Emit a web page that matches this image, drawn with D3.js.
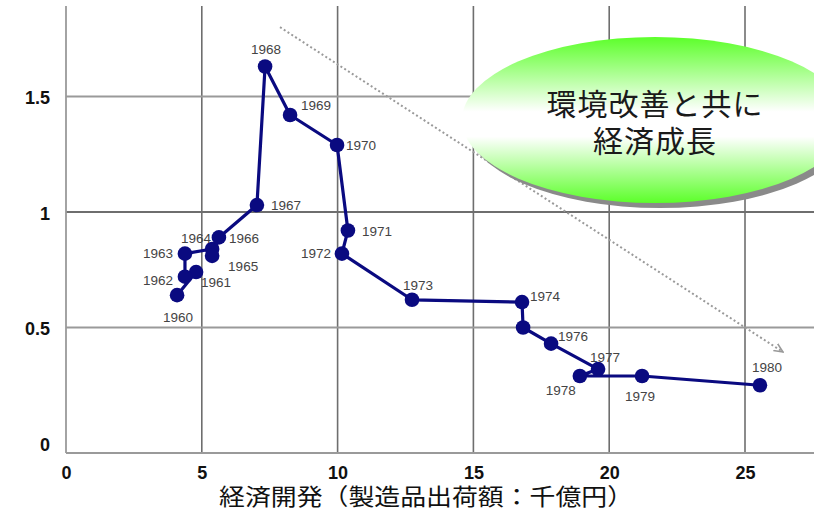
<!DOCTYPE html>
<html>
<head>
<meta charset="utf-8">
<script src="https://cdn.jsdelivr.net/npm/d3@7"></script>
<style>
  body { margin: 0; background: #fff; }
  svg { display: block; }
</style>
</head>
<body>
<svg id="svg" width="814" height="512"></svg>
<script>
// DATA //

// Year of each point
const years = [1960, 1961, 1962, 1963, 1964, 1965, 1966, 1967, 1968, 1969, 1970,
  1971, 1972, 1973, 1974, 1975, 1976, 1977, 1978, 1979, 1980];

// Economic development (shipments, 1000 oku yen)
const xValues = [4.09, 4.79, 4.38, 4.38, 5.38, 5.38, 5.63, 7.03, 7.33, 8.25, 9.98,
  10.38, 10.16, 12.74, 16.79, 16.83, 17.86, 19.59, 18.92, 21.21, 25.55];

// Pollution index
const yValues = [0.64, 0.74, 0.72, 0.82, 0.84, 0.81, 0.89, 1.03, 1.63, 1.42, 1.29,
  0.92, 0.82, 0.62, 0.61, 0.50, 0.43, 0.32, 0.29, 0.29, 0.25];

// Years without a label
const hiddenLabels = [1975];

const xTicks = [0, 5, 10, 15, 20, 25];
const yTicks = [0, 0.5, 1, 1.5];

// Dotted trend arrow (start, end) in data units
const trendX = [7.88, 26.4];
const trendY = [1.80, 0.394];

const xTitle = "経済開発（製造品出荷額：千億円）";
const calloutLines = ["環境改善と共に", "経済成長"];

// LAYOUT //

// Label offsets relative to the point [dx, dy, anchor]
const labelOffset = {
  1960: [1, 27, "middle"], 1961: [5, 15, "start"], 1962: [-12, 8, "end"],
  1963: [-12, 4, "end"], 1964: [-1, -6, "end"], 1965: [16, 15, "start"],
  1966: [10, 6, "start"], 1967: [14, 5, "start"], 1968: [1, -12, "middle"],
  1969: [11, -5, "start"], 1970: [9, 5, "start"], 1971: [14, 6, "start"],
  1972: [-11, 4, "end"], 1973: [6, -10, "middle"], 1974: [8, -1, "start"],
  1976: [7, -3, "start"], 1977: [7, -7, "middle"], 1978: [-19, 19, "middle"],
  1979: [-2, 25, "middle"], 1980: [7, -13, "middle"]
};

const svg = d3.select("#svg");

const plotTop = 6, plotBottom = 453, plotLeft = 66, plotRight = 814;

const x = d3.scaleLinear().domain([0, 25]).range([plotLeft, 745]);
const y = d3.scaleLinear().domain([0, 1.5]).range([443, 96.5]);

const defs = svg.append("defs");

// Green callout gradient
const grad = defs.append("linearGradient")
  .attr("id", "green").attr("x1", 0).attr("y1", 0).attr("x2", 0).attr("y2", 1);
grad.append("stop").attr("offset", "0%").attr("stop-color", "#5cff2a");
grad.append("stop").attr("offset", "45%").attr("stop-color", "#ffffff");
grad.append("stop").attr("offset", "60%").attr("stop-color", "#ffffff");
grad.append("stop").attr("offset", "100%").attr("stop-color", "#5cff2a");

defs.append("marker")
  .attr("id", "arrow")
  .attr("viewBox", "0 0 10 10")
  .attr("refX", 9).attr("refY", 5)
  .attr("markerWidth", 5).attr("markerHeight", 5)
  .attr("orient", "auto")
  .append("path")
  .attr("d", "M0,1 L9,5 L0,9")
  .attr("fill", "none")
  .attr("stroke", "#999")
  .attr("stroke-width", 1.5);

// Grid
const grid = svg.append("g");

grid.selectAll(".vgrid")
  .data(xTicks.filter(d => d > 0))
  .enter().append("line")
  .attr("x1", d => x(d)).attr("x2", d => x(d))
  .attr("y1", plotTop).attr("y2", plotBottom)
  .attr("stroke", "#6e6e6e").attr("stroke-width", 1.6);

grid.selectAll(".hgrid")
  .data(yTicks.filter(d => d > 0))
  .enter().append("line")
  .attr("x1", plotLeft).attr("x2", plotRight)
  .attr("y1", d => y(d)).attr("y2", d => y(d))
  .attr("stroke", d => d === 1 ? "#6e6e6e" : "#9a9a9a")
  .attr("stroke-width", 1.8);

// Axis lines
grid.append("line")
  .attr("x1", plotLeft).attr("x2", plotLeft)
  .attr("y1", plotTop).attr("y2", plotBottom)
  .attr("stroke", "#9a9a9a").attr("stroke-width", 1.8);
grid.append("line")
  .attr("x1", plotLeft).attr("x2", plotRight)
  .attr("y1", plotBottom).attr("y2", plotBottom)
  .attr("stroke", "#9a9a9a").attr("stroke-width", 1.8);

// Tick labels
const yAxis = svg.append("g")
  .attr("transform", "translate(50,1)")
  .call(d3.axisLeft(y).tickValues(yTicks).tickSize(0).tickFormat(d3.format("")));
yAxis.select(".domain").remove();
yAxis.selectAll("text")
  .attr("x", 0).attr("dy", "0.36em")
  .style("font-family", "'Liberation Sans', Arial, sans-serif")
  .style("font-size", "18px").style("font-weight", "bold").attr("fill", "#111");

const xAxis = svg.append("g")
  .attr("transform", "translate(0,466)")
  .call(d3.axisBottom(x).tickValues(xTicks).tickSize(0).tickFormat(d3.format("")));
xAxis.select(".domain").remove();
xAxis.selectAll("text")
  .attr("x", 0).attr("y", 0).attr("dy", "0.71em")
  .style("font-family", "'Liberation Sans', Arial, sans-serif")
  .style("font-size", "18px").style("font-weight", "bold").attr("fill", "#111");

svg.append("text")
  .attr("x", 426).attr("y", 505)
  .attr("text-anchor", "middle")
  .attr("textLength", 414)
  .attr("lengthAdjust", "spacingAndGlyphs")
  .style("font-family", "'Noto Sans CJK JP', sans-serif")
  .style("font-size", "23px").attr("fill", "#111")
  .text(xTitle);

// Dotted trend arrow
svg.append("line")
  .attr("x1", x(trendX[0])).attr("y1", y(trendY[0]))
  .attr("x2", x(trendX[1])).attr("y2", y(trendY[1]))
  .attr("stroke", "#9a9a9a").attr("stroke-width", 2)
  .attr("stroke-dasharray", "2,2.5")
  .attr("marker-end", "url(#arrow)");

// Callout ellipse
const callout = svg.append("g").attr("transform", "translate(655,120)");
callout.append("ellipse")
  .attr("cx", 5).attr("cy", 5).attr("rx", 193).attr("ry", 83)
  .attr("fill", "#8a8a8a");
callout.append("ellipse")
  .attr("cx", 0).attr("cy", 0).attr("rx", 193).attr("ry", 83)
  .attr("fill", "url(#green)");
callout.append("text")
  .attr("text-anchor", "middle")
  .style("font-family", "'Noto Sans CJK JP', sans-serif")
  .style("font-size", "30px").style("letter-spacing", "1px").attr("fill", "#1a1a1a")
  .selectAll("tspan")
  .data(calloutLines)
  .enter().append("tspan")
  .attr("x", 0).attr("y", (d, i) => -5 + i * 37)
  .text(d => d);

// Series
const data = years.map((yr, i) => ({year: yr, x: xValues[i], y: yValues[i]}));

const line = d3.line().x(d => x(d.x)).y(d => y(d.y));

svg.append("path")
  .datum(data)
  .attr("d", line)
  .attr("fill", "none")
  .attr("stroke", "#0a0a80")
  .attr("stroke-width", 3.2)
  .attr("stroke-linejoin", "round");

svg.selectAll(".dot")
  .data(data)
  .enter().append("circle")
  .attr("cx", d => x(d.x)).attr("cy", d => y(d.y))
  .attr("r", 7.3)
  .attr("fill", "#0a0a80");

svg.selectAll(".yr")
  .data(data.filter(d => !hiddenLabels.includes(d.year)))
  .enter().append("text")
  .attr("x", d => x(d.x) + labelOffset[d.year][0])
  .attr("y", d => y(d.y) + labelOffset[d.year][1])
  .attr("text-anchor", d => labelOffset[d.year][2])
  .style("font-family", "'Liberation Sans Narrow', 'Liberation Sans', Arial, sans-serif")
  .style("font-size", "13.5px").attr("fill", "#444")
  .text(d => d.year);
</script>
</body>
</html>
